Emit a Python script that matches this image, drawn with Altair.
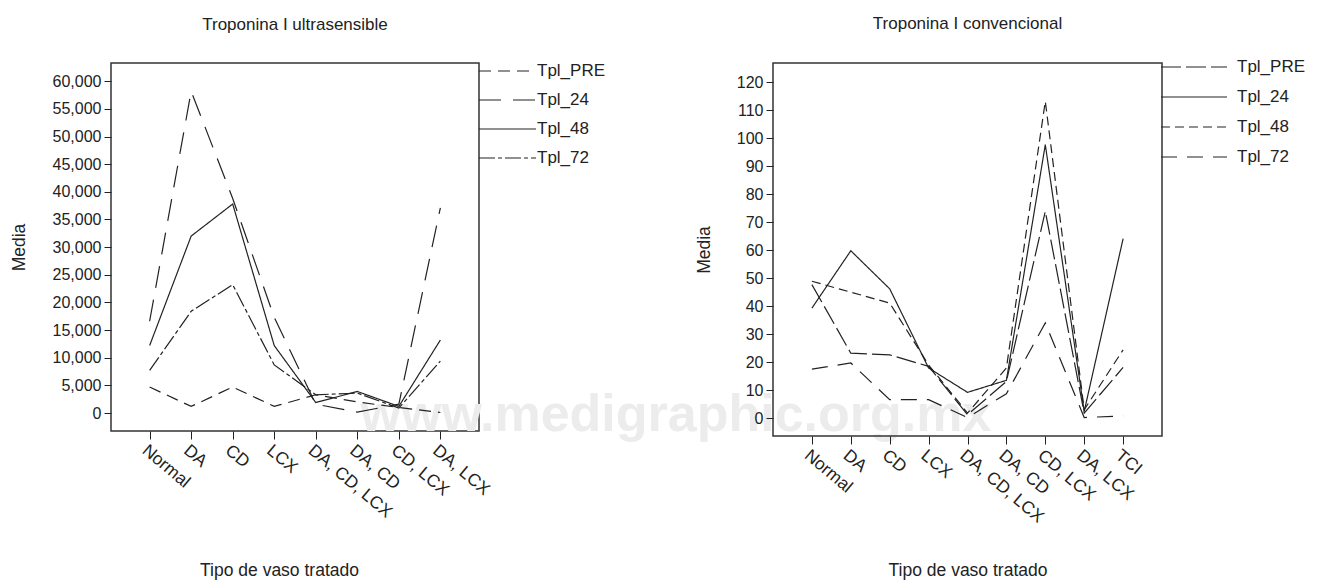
import altair as alt
import pandas as pd

# ---------------- data ----------------
series = ["Tpl_PRE", "Tpl_24", "Tpl_48", "Tpl_72"]

cats_us = ["Normal", "DA", "CD", "LCX", "DA, CD, LCX", "DA, CD", "CD, LCX", "DA, LCX"]
us_pre = [4700, 1200, 4700, 1200, 3300, 2000, 1000, 100]
us_24 = [16600, 58200, 38800, 17300, 1600, 150, 1600, 37100]
us_48 = [12200, 32000, 37800, 12200, 1900, 3900, 1200, 13200]
us_72 = [7700, 18400, 23200, 8700, 3300, 3600, 900, 9400]

cats_cv = ["Normal", "DA", "CD", "LCX", "DA, CD, LCX", "DA, CD", "CD, LCX", "DA, LCX", "TCI"]
cv_pre = [47.7, 23.2, 22.6, 18.5, 1.2, 13.1, 73.9, 1.8, 18.1]
cv_24 = [39.3, 59.8, 46.2, 17.9, 9.2, 13.5, 97.7, 2.4, 64.1]
cv_48 = [48.9, 45.0, 41.1, 19.0, 1.8, 17.9, 113.2, 3.0, 24.4]
cv_72 = [17.5, 19.7, 6.6, 6.6, 0.2, 8.7, 34.0, 0.2, 0.8]

us_ticks = list(range(0, 60001, 5000))
cv_ticks = list(range(0, 121, 10))

title_us = "Troponina I ultrasensible"
title_cv = "Troponina I convencional"
y_title = "Media"
x_title = "Tipo de vaso tratado"
watermark = "www.medigraphic.org.mx"

FONT = "Liberation Sans Narrow, Liberation Sans, Arial, sans-serif"
INK = "#222222"


def long_df(cats, cols):
    rows = []
    for s, vals in zip(series, cols):
        for i, (c, v) in enumerate(zip(cats, vals)):
            rows.append({"cat": c, "serie": s, "valor": v, "idx": i})
    return pd.DataFrame(rows)


df_us = long_df(cats_us, [us_pre, us_24, us_48, us_72])
df_cv = long_df(cats_cv, [cv_pre, cv_24, cv_48, cv_72])
df_wm = pd.DataFrame({"t": [watermark]})


def panel(df, cats, ticks, ydom, fmt, h, pad, dashes, leg_x, leg_y,
          sym_size, lab_off, row_pad, ytitle_x, xtitle_x, xtitle_y):
    return alt.Chart(df).mark_line(color=INK, strokeWidth=1.2).encode(
        x=alt.X("cat:N", sort=cats,
                scale=alt.Scale(type="point", domain=cats, padding=pad),
                axis=alt.Axis(title=x_title, labelAngle=40, labelAlign="left",
                              labelBaseline="top", tickSize=8, labelPadding=2,
                              labelFontSize=17.5,
                              titleX=xtitle_x, titleY=xtitle_y,
                              titleBaseline="alphabetic", titleAlign="center")),
        y=alt.Y("valor:Q",
                scale=alt.Scale(domain=ydom, nice=False, zero=False),
                axis=alt.Axis(title=y_title, values=ticks, format=fmt,
                              tickSize=7, labelPadding=3,
                              titleX=ytitle_x, titleY=h / 2, titleAngle=-90,
                              titleBaseline="middle", titleAlign="center")),
        strokeDash=alt.StrokeDash(
            "serie:N",
            scale=alt.Scale(domain=series, range=dashes),
            legend=alt.Legend(orient="none", legendX=leg_x, legendY=leg_y,
                              title=None, symbolType="stroke",
                              symbolSize=sym_size, symbolStrokeWidth=1.2,
                              symbolStrokeColor=INK, labelFont=FONT,
                              labelFontSize=17, labelColor=INK,
                              labelOffset=lab_off, clipHeight=20,
                              rowPadding=row_pad, padding=0)),
        order=alt.Order("idx:Q"),
    )


W1, H1 = 368, 368
W2, H2 = 389, 373

left_lines = panel(df_us, cats_us, us_ticks, [-3250, 63300], ",d", H1, 0.93,
                   [[12, 7], [22, 12], [1, 0], [16, 3, 4, 3]],
                   W1 - 1, -2, 3249, 0, 9, -92, 168, 144)
right_lines = panel(df_cv, cats_cv, cv_ticks, [-6.4, 126.9], "d", H2, 1.0,
                    [[20, 5], [1, 0], [9, 5], [16, 10]],
                    W2 - 2, -6, 4356, 9, 10, -69, W2 / 2, 139)

wm = alt.Chart(df_wm).mark_text(
    font=FONT, fontWeight="bold", fontSize=52, color="#ececec",
    align="center", baseline="alphabetic"
).encode(text="t:N", x=alt.value(565), y=alt.value(H1))

left = alt.layer(wm, left_lines).properties(
    width=W1, height=H1,
    title=alt.TitleParams(title_us, font=FONT, fontSize=17, fontWeight="normal",
                          color=INK, offset=14, baseline="alphabetic", anchor="middle"),
)
right = alt.layer(right_lines).properties(
    width=W2, height=H2,
    title=alt.TitleParams(title_cv, font=FONT, fontSize=17, fontWeight="normal",
                          color=INK, offset=11, baseline="alphabetic", anchor="middle"),
)

chart = alt.hconcat(left, right, spacing=294, bounds="flush").resolve_scale(
    x="independent", y="independent", strokeDash="independent"
).resolve_legend(strokeDash="independent").configure(
    padding={"left": 1, "top": 6, "right": 0, "bottom": 0},
    background="white",
).configure_view(
    stroke="#333333", strokeWidth=1.5
).configure_axis(
    grid=False, domain=False, labelFont=FONT, labelFontSize=16,
    labelColor=INK, tickColor=INK, titleFont=FONT, titleFontSize=17.5,
    titleFontWeight="normal", titleColor=INK,
)

chart.save("out.html", embed_options={"renderer": "svg", "actions": False})
